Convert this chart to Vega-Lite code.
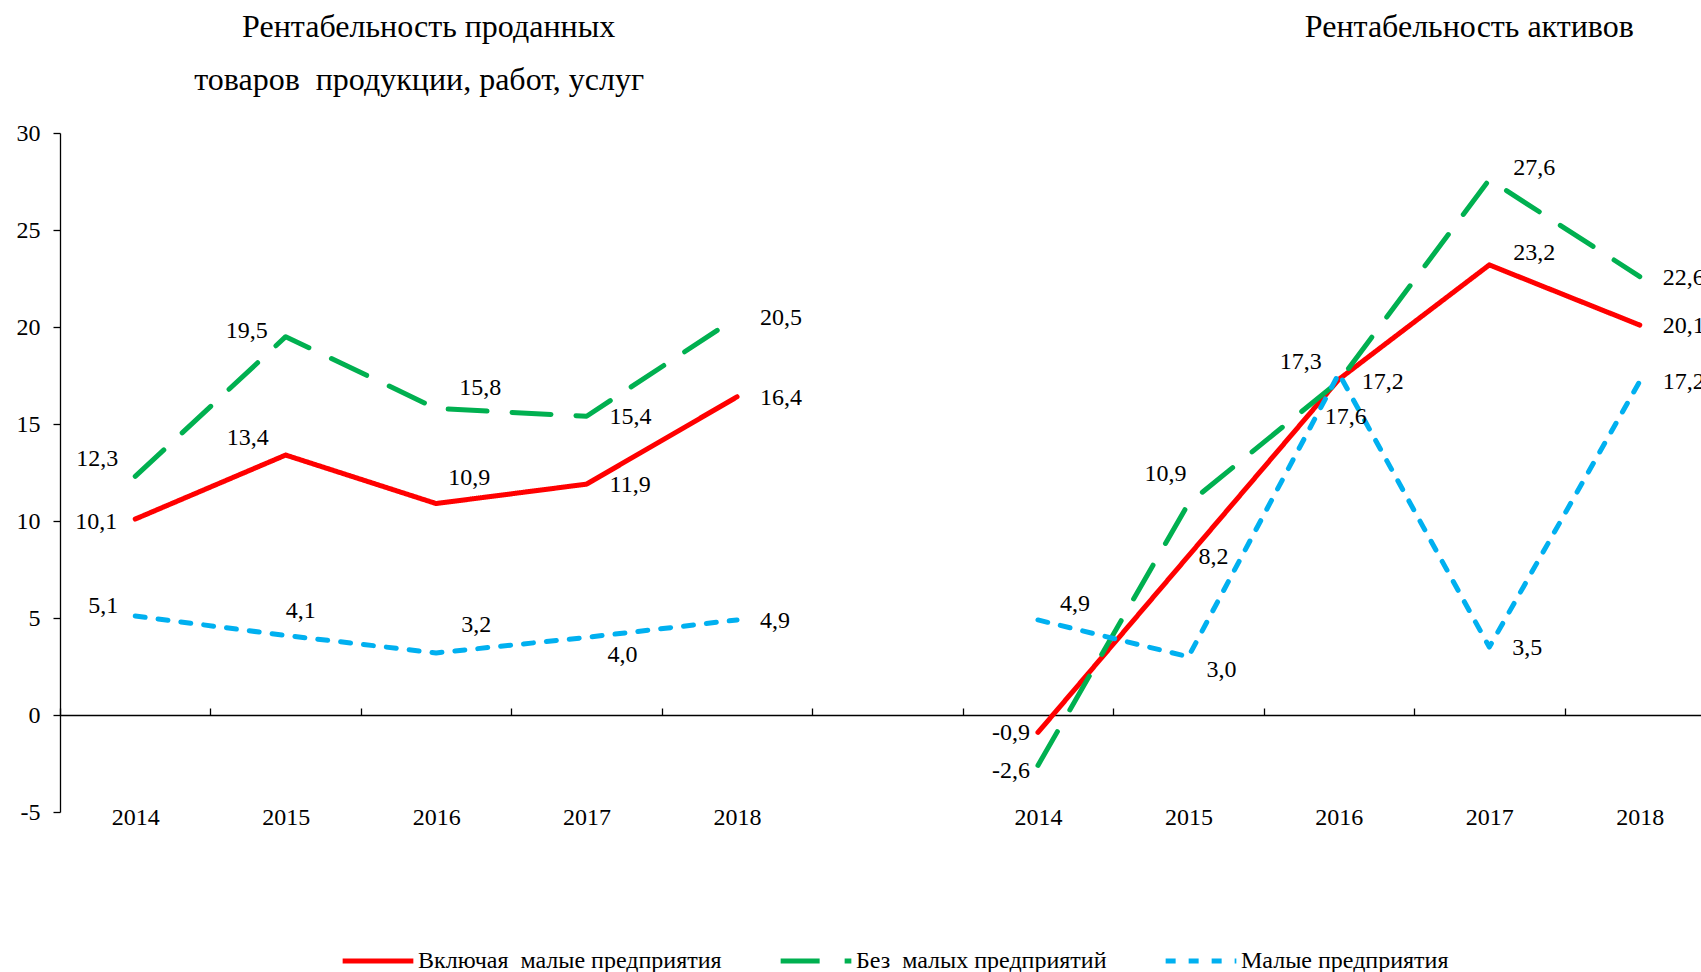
{
  "$schema": "https://vega.github.io/schema/vega-lite/v6.json",
  "width": 1641,
  "height": 679,
  "autosize": {"type": "none"},
  "padding": {"left": 60, "top": 133, "right": 0, "bottom": 160},
  "background": "#ffffff",
  "config": {"view": {"stroke": null}, "font": "Liberation Serif"},
  "data": {"values": [
    {"cat": "L2014", "p": "L", "series": "Включая\u00a0 малые предприятия", "v": 10.1},
    {"cat": "L2015", "p": "L", "series": "Включая\u00a0 малые предприятия", "v": 13.4},
    {"cat": "L2016", "p": "L", "series": "Включая\u00a0 малые предприятия", "v": 10.9},
    {"cat": "L2017", "p": "L", "series": "Включая\u00a0 малые предприятия", "v": 11.9},
    {"cat": "L2018", "p": "L", "series": "Включая\u00a0 малые предприятия", "v": 16.4},
    {"cat": "R2014", "p": "R", "series": "Включая\u00a0 малые предприятия", "v": -0.9},
    {"cat": "R2015", "p": "R", "series": "Включая\u00a0 малые предприятия", "v": 8.2},
    {"cat": "R2016", "p": "R", "series": "Включая\u00a0 малые предприятия", "v": 17.3},
    {"cat": "R2017", "p": "R", "series": "Включая\u00a0 малые предприятия", "v": 23.2},
    {"cat": "R2018", "p": "R", "series": "Включая\u00a0 малые предприятия", "v": 20.1},
    {"cat": "L2014", "p": "L", "series": "Без\u00a0 малых предприятий", "v": 12.3},
    {"cat": "L2015", "p": "L", "series": "Без\u00a0 малых предприятий", "v": 19.5},
    {"cat": "L2016", "p": "L", "series": "Без\u00a0 малых предприятий", "v": 15.8},
    {"cat": "L2017", "p": "L", "series": "Без\u00a0 малых предприятий", "v": 15.4},
    {"cat": "L2018", "p": "L", "series": "Без\u00a0 малых предприятий", "v": 20.5},
    {"cat": "R2014", "p": "R", "series": "Без\u00a0 малых предприятий", "v": -2.6},
    {"cat": "R2015", "p": "R", "series": "Без\u00a0 малых предприятий", "v": 10.9},
    {"cat": "R2016", "p": "R", "series": "Без\u00a0 малых предприятий", "v": 17.2},
    {"cat": "R2017", "p": "R", "series": "Без\u00a0 малых предприятий", "v": 27.6},
    {"cat": "R2018", "p": "R", "series": "Без\u00a0 малых предприятий", "v": 22.6},
    {"cat": "L2014", "p": "L", "series": "Малые предприятия", "v": 5.1},
    {"cat": "L2015", "p": "L", "series": "Малые предприятия", "v": 4.1},
    {"cat": "L2016", "p": "L", "series": "Малые предприятия", "v": 3.2},
    {"cat": "L2017", "p": "L", "series": "Малые предприятия", "v": 4.0},
    {"cat": "L2018", "p": "L", "series": "Малые предприятия", "v": 4.9},
    {"cat": "R2014", "p": "R", "series": "Малые предприятия", "v": 4.9},
    {"cat": "R2015", "p": "R", "series": "Малые предприятия", "v": 3.0},
    {"cat": "R2016", "p": "R", "series": "Малые предприятия", "v": 17.6},
    {"cat": "R2017", "p": "R", "series": "Малые предприятия", "v": 3.5},
    {"cat": "R2018", "p": "R", "series": "Малые предприятия", "v": 17.2}
  ]},
  "transform": [
    {"calculate": "replace(replace(format(datum.v, '.1f'), '.', ','), '\u2212', '-')", "as": "lbl"},
    {"calculate": "datum.cat + substring(datum.series, 0, 1)", "as": "k"}
  ],
  "layer": [
    {
      "mark": {"type": "line", "strokeWidth": 5, "strokeCap": "round", "strokeJoin": "round"},
      "encoding": {
        "x": {"field": "cat", "type": "nominal", "title": null,
          "scale": {"domain": ["L2014", "L2015", "L2016", "L2017", "L2018", "G", "R2014", "R2015", "R2016", "R2017", "R2018"], "range": [0, 1655], "paddingInner": 0, "paddingOuter": 0},
          "axis": {"orient": "bottom", "offset": -97, "tickBand": "extent", "tickSize": -7, "labelPadding": 97, "labelAngle": 0,
            "labelExpr": "isString(datum.value) && datum.value != 'G' ? substring(datum.value, 1) : ''",
            "domainColor": "#000000", "domainWidth": 1.3, "tickColor": "#000000", "tickWidth": 1.3,
            "labelFont": "Liberation Serif", "labelFontSize": 24, "labelColor": "#000000", "grid": false}},
        "y": {"field": "v", "type": "quantitative", "title": null,
          "scale": {"domain": [-5, 30], "nice": false, "zero": false},
          "axis": {"values": [-5, 0, 5, 10, 15, 20, 25, 30], "tickSize": 7, "labelPadding": 13, "labelExpr": "datum.value + ''",
            "domainColor": "#000000", "domainWidth": 1.3, "tickColor": "#000000", "tickWidth": 1.3,
            "labelFont": "Liberation Serif", "labelFontSize": 24, "labelColor": "#000000", "grid": false}},
        "color": {"field": "series", "type": "nominal", "title": null,
          "scale": {"domain": ["Включая\u00a0 малые предприятия", "Без\u00a0 малых предприятий", "Малые предприятия"], "range": ["#FF0000", "#00B050", "#00B0F0"]},
          "legend": {"orient": "none", "legendX": 280, "legendY": 790, "direction": "horizontal", "symbolType": "stroke", "symbolSize": 5000, "symbolStrokeWidth": 5, "labelFont": "Liberation Serif", "labelFontSize": 24, "labelColor": "#000000", "labelLimit": 0, "labelOffset": 2, "columnPadding": 48, "padding": 0, "title": null}},
        "strokeDash": {"field": "series", "type": "nominal", "title": null,
          "scale": {"domain": ["Включая\u00a0 малые предприятия", "Без\u00a0 малых предприятий", "Малые предприятия"], "range": [[1, 0], [39, 25], [10, 13]]},
          "legend": {"orient": "none", "legendX": 280, "legendY": 790, "direction": "horizontal", "symbolType": "stroke", "symbolSize": 5000, "symbolStrokeWidth": 5, "labelFont": "Liberation Serif", "labelFontSize": 24, "labelColor": "#000000", "labelLimit": 0, "labelOffset": 2, "columnPadding": 48, "padding": 0, "title": null}},
        "detail": {"field": "p"}
      }
    },
    {
      "transform": [{"filter": {"field": "k", "oneOf": ["L2017В", "L2018В", "L2017Б", "L2018Б", "L2018М", "R2018В", "R2016Б", "R2018Б", "R2017М", "R2018М"]}}],
      "mark": {"type": "text", "font": "Liberation Serif", "fontSize": 24, "color": "#000000", "align": "left", "baseline": "middle", "dx": 23, "dy": 1},
      "encoding": {"x": {"field": "cat", "type": "nominal", "title": null}, "y": {"field": "v", "type": "quantitative", "title": null}, "text": {"field": "lbl"}}
    },
    {
      "transform": [{"filter": {"field": "k", "oneOf": ["L2016Б"]}}],
      "mark": {"type": "text", "font": "Liberation Serif", "fontSize": 24, "color": "#000000", "align": "left", "baseline": "middle", "dx": 23, "dy": -20},
      "encoding": {"x": {"field": "cat", "type": "nominal", "title": null}, "y": {"field": "v", "type": "quantitative", "title": null}, "text": {"field": "lbl"}}
    },
    {
      "transform": [{"filter": {"field": "k", "oneOf": ["L2016В"]}}],
      "mark": {"type": "text", "font": "Liberation Serif", "fontSize": 24, "color": "#000000", "align": "left", "baseline": "middle", "dx": 12, "dy": -26},
      "encoding": {"x": {"field": "cat", "type": "nominal", "title": null}, "y": {"field": "v", "type": "quantitative", "title": null}, "text": {"field": "lbl"}}
    },
    {
      "transform": [{"filter": {"field": "k", "oneOf": ["L2016М"]}}],
      "mark": {"type": "text", "font": "Liberation Serif", "fontSize": 24, "color": "#000000", "align": "left", "baseline": "middle", "dx": 25, "dy": -28},
      "encoding": {"x": {"field": "cat", "type": "nominal", "title": null}, "y": {"field": "v", "type": "quantitative", "title": null}, "text": {"field": "lbl"}}
    },
    {
      "transform": [{"filter": {"field": "k", "oneOf": ["L2015М"]}}],
      "mark": {"type": "text", "font": "Liberation Serif", "fontSize": 24, "color": "#000000", "align": "left", "baseline": "middle", "dx": 0, "dy": -24},
      "encoding": {"x": {"field": "cat", "type": "nominal", "title": null}, "y": {"field": "v", "type": "quantitative", "title": null}, "text": {"field": "lbl"}}
    },
    {
      "transform": [{"filter": {"field": "k", "oneOf": ["L2017М"]}}],
      "mark": {"type": "text", "font": "Liberation Serif", "fontSize": 24, "color": "#000000", "align": "left", "baseline": "middle", "dx": 21, "dy": 18},
      "encoding": {"x": {"field": "cat", "type": "nominal", "title": null}, "y": {"field": "v", "type": "quantitative", "title": null}, "text": {"field": "lbl"}}
    },
    {
      "transform": [{"filter": {"field": "k", "oneOf": ["R2017В", "R2017Б"]}}],
      "mark": {"type": "text", "font": "Liberation Serif", "fontSize": 24, "color": "#000000", "align": "left", "baseline": "middle", "dx": 24, "dy": -12},
      "encoding": {"x": {"field": "cat", "type": "nominal", "title": null}, "y": {"field": "v", "type": "quantitative", "title": null}, "text": {"field": "lbl"}}
    },
    {
      "transform": [{"filter": {"field": "k", "oneOf": ["R2014М"]}}],
      "mark": {"type": "text", "font": "Liberation Serif", "fontSize": 24, "color": "#000000", "align": "left", "baseline": "middle", "dx": 22, "dy": -16},
      "encoding": {"x": {"field": "cat", "type": "nominal", "title": null}, "y": {"field": "v", "type": "quantitative", "title": null}, "text": {"field": "lbl"}}
    },
    {
      "transform": [{"filter": {"field": "k", "oneOf": ["R2015М"]}}],
      "mark": {"type": "text", "font": "Liberation Serif", "fontSize": 24, "color": "#000000", "align": "left", "baseline": "middle", "dx": 18, "dy": 13},
      "encoding": {"x": {"field": "cat", "type": "nominal", "title": null}, "y": {"field": "v", "type": "quantitative", "title": null}, "text": {"field": "lbl"}}
    },
    {
      "transform": [{"filter": {"field": "k", "oneOf": ["R2015В"]}}],
      "mark": {"type": "text", "font": "Liberation Serif", "fontSize": 24, "color": "#000000", "align": "left", "baseline": "middle", "dx": 10, "dy": 1},
      "encoding": {"x": {"field": "cat", "type": "nominal", "title": null}, "y": {"field": "v", "type": "quantitative", "title": null}, "text": {"field": "lbl"}}
    },
    {
      "transform": [{"filter": {"field": "k", "oneOf": ["L2015Б"]}}],
      "mark": {"type": "text", "font": "Liberation Serif", "fontSize": 24, "color": "#000000", "align": "right", "baseline": "middle", "dx": -18, "dy": -6},
      "encoding": {"x": {"field": "cat", "type": "nominal", "title": null}, "y": {"field": "v", "type": "quantitative", "title": null}, "text": {"field": "lbl"}}
    },
    {
      "transform": [{"filter": {"field": "k", "oneOf": ["L2015В", "L2014Б", "R2016В"]}}],
      "mark": {"type": "text", "font": "Liberation Serif", "fontSize": 24, "color": "#000000", "align": "right", "baseline": "middle", "dx": -17, "dy": -17},
      "encoding": {"x": {"field": "cat", "type": "nominal", "title": null}, "y": {"field": "v", "type": "quantitative", "title": null}, "text": {"field": "lbl"}}
    },
    {
      "transform": [{"filter": {"field": "k", "oneOf": ["L2014В"]}}],
      "mark": {"type": "text", "font": "Liberation Serif", "fontSize": 24, "color": "#000000", "align": "right", "baseline": "middle", "dx": -18, "dy": 3},
      "encoding": {"x": {"field": "cat", "type": "nominal", "title": null}, "y": {"field": "v", "type": "quantitative", "title": null}, "text": {"field": "lbl"}}
    },
    {
      "transform": [{"filter": {"field": "k", "oneOf": ["L2014М"]}}],
      "mark": {"type": "text", "font": "Liberation Serif", "fontSize": 24, "color": "#000000", "align": "right", "baseline": "middle", "dx": -17, "dy": -10},
      "encoding": {"x": {"field": "cat", "type": "nominal", "title": null}, "y": {"field": "v", "type": "quantitative", "title": null}, "text": {"field": "lbl"}}
    },
    {
      "transform": [{"filter": {"field": "k", "oneOf": ["R2014В"]}}],
      "mark": {"type": "text", "font": "Liberation Serif", "fontSize": 24, "color": "#000000", "align": "right", "baseline": "middle", "dx": -8, "dy": 1},
      "encoding": {"x": {"field": "cat", "type": "nominal", "title": null}, "y": {"field": "v", "type": "quantitative", "title": null}, "text": {"field": "lbl"}}
    },
    {
      "transform": [{"filter": {"field": "k", "oneOf": ["R2014Б"]}}],
      "mark": {"type": "text", "font": "Liberation Serif", "fontSize": 24, "color": "#000000", "align": "right", "baseline": "middle", "dx": -8, "dy": 6},
      "encoding": {"x": {"field": "cat", "type": "nominal", "title": null}, "y": {"field": "v", "type": "quantitative", "title": null}, "text": {"field": "lbl"}}
    },
    {
      "transform": [{"filter": {"field": "k", "oneOf": ["R2015Б"]}}],
      "mark": {"type": "text", "font": "Liberation Serif", "fontSize": 24, "color": "#000000", "align": "center", "baseline": "middle", "dx": -23, "dy": -30},
      "encoding": {"x": {"field": "cat", "type": "nominal", "title": null}, "y": {"field": "v", "type": "quantitative", "title": null}, "text": {"field": "lbl"}}
    },
    {
      "transform": [{"filter": {"field": "k", "oneOf": ["R2016М"]}}],
      "mark": {"type": "text", "font": "Liberation Serif", "fontSize": 24, "color": "#000000", "align": "center", "baseline": "middle", "dx": 7, "dy": 43},
      "encoding": {"x": {"field": "cat", "type": "nominal", "title": null}, "y": {"field": "v", "type": "quantitative", "title": null}, "text": {"field": "lbl"}}
    },
    {
      "data": {"values": [{"t": "Рентабельность проданных"}]},
      "mark": {"type": "text", "font": "Liberation Serif", "fontSize": 32, "color": "#000000", "align": "center", "baseline": "middle", "dx": -7.5},
      "encoding": {"x": {"datum": "L2016", "type": "nominal"}, "y": {"datum": 35.45, "type": "quantitative"}, "text": {"field": "t"}}
    },
    {
      "data": {"values": [{"t": "товаров\u00a0 продукции, работ, услуг"}]},
      "mark": {"type": "text", "font": "Liberation Serif", "fontSize": 32, "color": "#000000", "align": "center", "baseline": "middle", "dx": -17},
      "encoding": {"x": {"datum": "L2016", "type": "nominal"}, "y": {"datum": 32.72, "type": "quantitative"}, "text": {"field": "t"}}
    },
    {
      "data": {"values": [{"t": "Рентабельность активов"}]},
      "mark": {"type": "text", "font": "Liberation Serif", "fontSize": 32, "color": "#000000", "align": "center", "baseline": "middle", "dx": -20},
      "encoding": {"x": {"datum": "R2017", "type": "nominal"}, "y": {"datum": 35.45, "type": "quantitative"}, "text": {"field": "t"}}
    }
  ]
}
